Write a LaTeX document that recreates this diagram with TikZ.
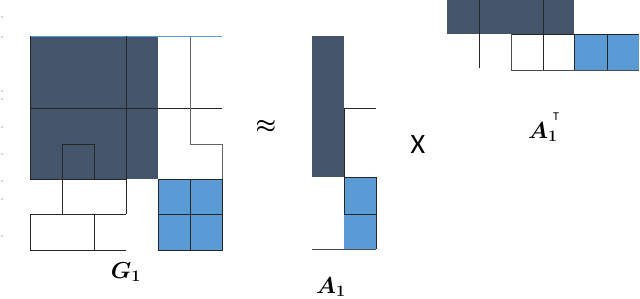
\documentclass[tikz,border=0pt]{standalone}
\usepackage{fontspec}
\usepackage{amsmath,amssymb}
\newfontfamily\calfont{Carlito}
\definecolor{slate}{HTML}{44546A}
\definecolor{skyblue}{HTML}{5B9BD5}
\tikzset{grid line/.style={line width=.7pt,black!85},
  mat label/.style={inner sep=0pt,font=\fontsize{17}{19}\selectfont\boldmath}}

\begin{document}
\begin{tikzpicture}[x=.75pt,y=-.75pt]
\useasboundingbox(0,0)rectangle(640,298);
\foreach \y in {17,37,91,99,127,154,181,199,236}\fill[black!70](2,\y)circle(.7);
% G_1
\fill[slate](30,36)rectangle(158,179);\fill[skyblue](158,179)rectangle(222,250);
\draw[skyblue,line width=.7pt](30,36)--(222,36);
\draw[grid line](30,36)--(30,179)--(126,179);\draw[grid line](126,36)--(126,214);\draw[grid line](30,108)--(222,108);
\draw[grid line](62,214)--(62,144)--(94,144)--(94,179);
\draw[grid line](30,214)--(126,214);\draw[grid line](30,214)--(30,250)--(126,250);\draw[grid line](94,214)--(94,250);
\draw[grid line,black!60](190,36)--(190,144)--(222,144)--(222,179)--(158,179);
\draw[grid line](158,179)rectangle(222,250);\draw[grid line](190,179)--(190,250);\draw[grid line](158,214)--(222,214);
\node[mat label](g1)at(126,272){$G_1$};
\node[inner sep=0pt,font=\fontsize{17}{19}\selectfont\boldmath](approx)at(266,127){$\approx$};
% A_1
\fill[slate](312,36)rectangle(344,177);\fill[skyblue](344,177)rectangle(376,249);
\draw[grid line](344,108)--(376,108);\draw[grid line](344,108)--(344,214);
\draw[grid line](344,177)--(376,177)--(376,249);\draw[grid line](344,214)--(376,214);\draw[grid line,black!70](312,249)--(376,249);
\node[mat label](a1)at(331,287){$A_1$};
\node[inner sep=0pt,font=\calfont\fontsize{21}{23}\selectfont](times)at(418,145){X};
% A_1^T
\fill[slate](447,0)rectangle(574,34);\fill[skyblue](574,34)rectangle(639,70);
\draw[grid line](479,0)--(479,68);\draw[grid line](543,0)--(543,70);
\draw[grid line](511,34)--(639,34);\draw[grid line,black!70](511,34)--(511,70)--(639,70);
\draw[grid line](574,34)--(574,70);\draw[grid line](607,34)--(607,70);
\node[mat label](a1t)at(543,132){$A_1$};
\node[inner sep=0pt,font=\calfont\fontsize{9}{10}\selectfont](tsym)at(556,117){T};
\end{tikzpicture}
\end{document}
